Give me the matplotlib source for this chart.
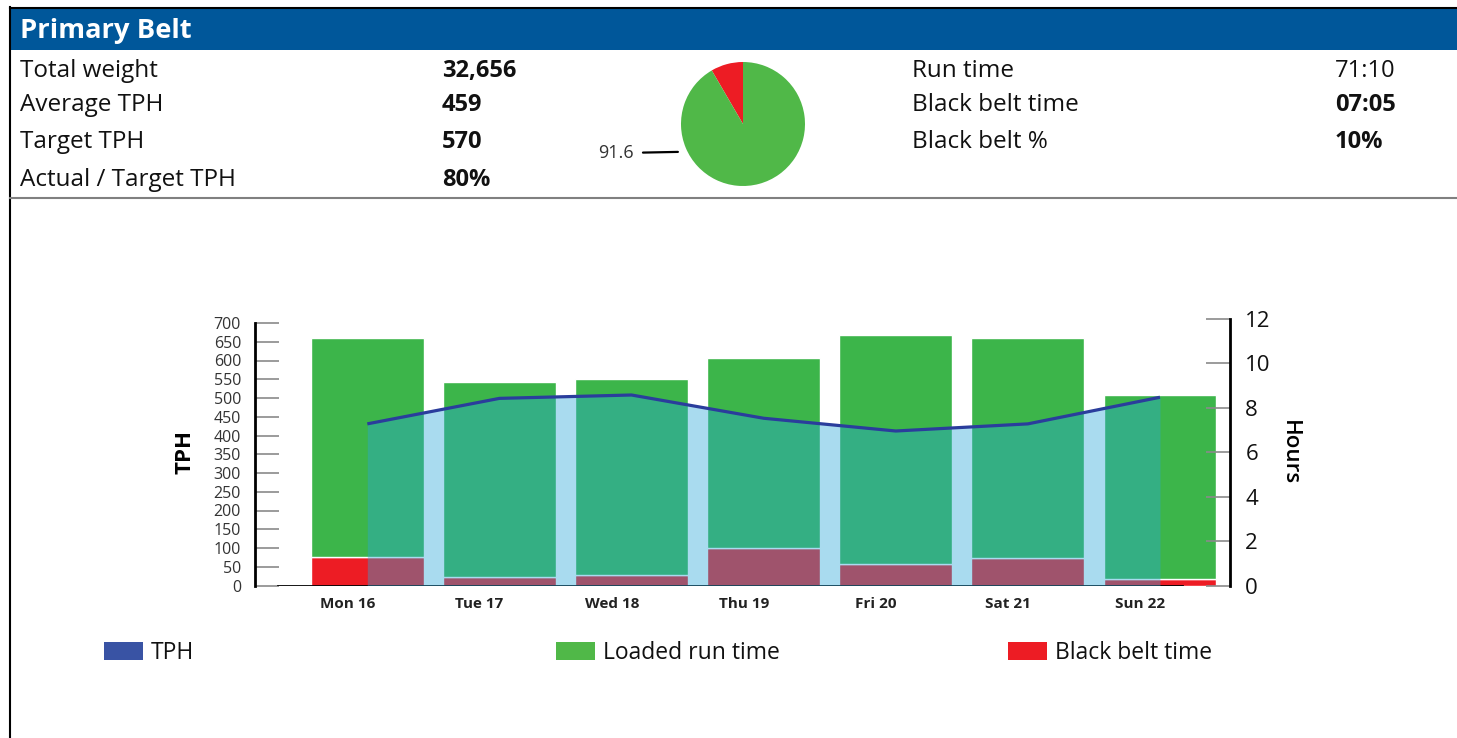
import matplotlib
matplotlib.use('Agg')
import matplotlib.pyplot as plt
from matplotlib.patches import Rectangle
from matplotlib.lines import Line2D
import numpy as np

plt.rcParams['font.family'] = ['Open Sans', 'DejaVu Sans']

# ---------------- data ----------------
days = ['Mon 16', 'Tue 17', 'Wed 18', 'Thu 19', 'Fri 20', 'Sat 21', 'Sun 22']
tph = [431, 499, 508, 446, 412, 431, 502]
black_belt_hours = [1.27, 0.37, 0.46, 1.68, 0.96, 1.25, 0.31]
loaded_hours = [9.87, 8.80, 8.84, 8.57, 10.32, 9.90, 8.26]

left_labels = ['Total weight', 'Average TPH', 'Target TPH', 'Actual / Target TPH']
left_values = ['32,656', '459', '570', '80%']
right_labels = ['Run time', 'Black belt time', 'Black belt %']
right_values = ['71:10', '07:05', '10%']
right_value_bold = [False, True, True]

pie_values = [8.4, 91.6]          # black belt, loaded
pie_label = '91.6'

legend_labels = ['TPH', 'Loaded run time', 'Black belt time']

# ---------------- styling ----------------
C_BLUE_HDR = '#00579a'
C_GREEN = '#3cb54a'
C_RED = '#ed1c24'
C_AREA = '#2aa7d9'
C_LINE = '#2a3d9c'
C_LEG = ['#3953a4', '#50b848', '#ed1c24']

W, H = 1457, 738
def fx(px):
    return px / W
def fy(py):
    return 1 - py / H

fig = plt.figure(figsize=(W / 100, H / 100), dpi=100)

# frame / header
fig.add_artist(Rectangle((fx(10), fy(50)), 1 - fx(10), 42 / H, color=C_BLUE_HDR,
                         transform=fig.transFigure, lw=0))
fig.add_artist(Line2D([fx(10), 1], [fy(7.5), fy(7.5)], color='black', lw=1.5))
fig.add_artist(Line2D([fx(10), fx(10)], [0, fy(7)], color='black', lw=1.5))
fig.add_artist(Line2D([fx(10), 1], [fy(198), fy(198)], color='#808080', lw=1.5))
fig.text(fx(20), fy(31), 'Primary Belt', color='white', fontsize=19.7,
         fontweight='bold', va='center', ha='left')

# summary rows
left_rows_y = [71, 105, 142, 180]
for lab, val, yy in zip(left_labels, left_values, left_rows_y):
    fig.text(fx(20), fy(yy), lab, fontsize=17.5, va='center', ha='left', color='#111',
             fontweight='medium')
    fig.text(fx(442), fy(yy), val, fontsize=17, va='center', ha='left',
             fontweight='bold', color='#111')
right_rows_y = [71, 105, 142]
for lab, val, b, yy in zip(right_labels, right_values, right_value_bold, right_rows_y):
    fig.text(fx(912), fy(yy), lab, fontsize=17.5, va='center', ha='left', color='#111',
             fontweight='medium')
    fig.text(fx(1335), fy(yy), val, fontsize=17, va='center', ha='left',
             fontweight='bold' if b else 'medium', color='#111')

# pie
axp = fig.add_axes([fx(681), fy(186), 124 / W, 124 / H])
axp.pie(pie_values, colors=[C_RED, '#50b848'], startangle=90, counterclock=True,
        radius=1, wedgeprops=dict(lw=0))
axp.set_xlim(-1, 1)
axp.set_ylim(-1, 1)
axp.annotate(pie_label, xy=(-1.05, -0.45), xytext=(-1.77, -0.47), ha='right', va='center',
             fontsize=13, color='#333', annotation_clip=False,
             arrowprops=dict(arrowstyle='-', color='black', lw=1.6, shrinkA=5, shrinkB=0))

# main chart
ax1 = fig.add_axes([fx(255), fy(585.5), (1230 - 255) / W, (585.5 - 319) / H])
ax2 = ax1.twinx()
ax1.set_zorder(ax2.get_zorder() + 1)
ax1.patch.set_visible(False)

x = np.arange(len(days))
bw = 0.855
ax2.bar(x, black_belt_hours, width=bw, color=C_RED, edgecolor='white', lw=1)
ax2.bar(x, loaded_hours, bottom=black_belt_hours, width=bw, color=C_GREEN,
        edgecolor='white', lw=1)

ax1.axhline(0, xmin=(278 - 255) / 975, xmax=(1182 - 255) / 975, color='black', lw=2, zorder=2)
ax1.fill_between(x, tph, 0, color=C_AREA, alpha=0.4, lw=0, zorder=3)
ax1.plot(x, tph, color=C_LINE, lw=2.3, zorder=4, solid_capstyle='butt')

ax1.set_xlim(-0.85, 6.53)
ax1.set_ylim(0, 700 * 266.5 / 262.5)
ax2.set_ylim(0, 12)

ax1.set_yticks(np.arange(0, 701, 50))
ax1.tick_params(axis='y', direction='in', length=17, width=1.2, color='#8a8a8a',
                labelsize=11.5, labelcolor='#333', pad=10)
ax2.set_yticks(np.arange(0, 13, 2))
ax2.tick_params(axis='y', direction='in', length=17, width=1.2, color='#8a8a8a',
                labelsize=16, labelcolor='#111', pad=11)

ax1.set_xticks(x - 0.15)
ax1.set_xticklabels(days, fontsize=11, fontweight='bold', color='#222')
ax1.tick_params(axis='x', length=0, pad=8)

for s in ['top', 'bottom', 'right']:
    ax1.spines[s].set_visible(False)
ax1.spines['left'].set_bounds(0, 700)
ax1.spines['left'].set_linewidth(2)
for s in ['top', 'bottom', 'left']:
    ax2.spines[s].set_visible(False)
ax2.spines['right'].set_linewidth(2)

ax1.set_ylabel('TPH', fontsize=16, fontweight='bold', labelpad=13)
ax2.set_ylabel('Hours', fontsize=16, fontweight='semibold', rotation=270,
               va='bottom', labelpad=6)

# legend
leg_patch_x = [104, 556, 1008]
for lab, col, px in zip(legend_labels, C_LEG, leg_patch_x):
    fig.add_artist(Rectangle((fx(px), fy(660)), 39 / W, 18 / H, color=col, lw=0,
                             transform=fig.transFigure))
    fig.text(fx(px + 47), fy(653), lab, fontsize=16.5, va='center', ha='left', color='#111')

fig.savefig('out.png', dpi=100)
